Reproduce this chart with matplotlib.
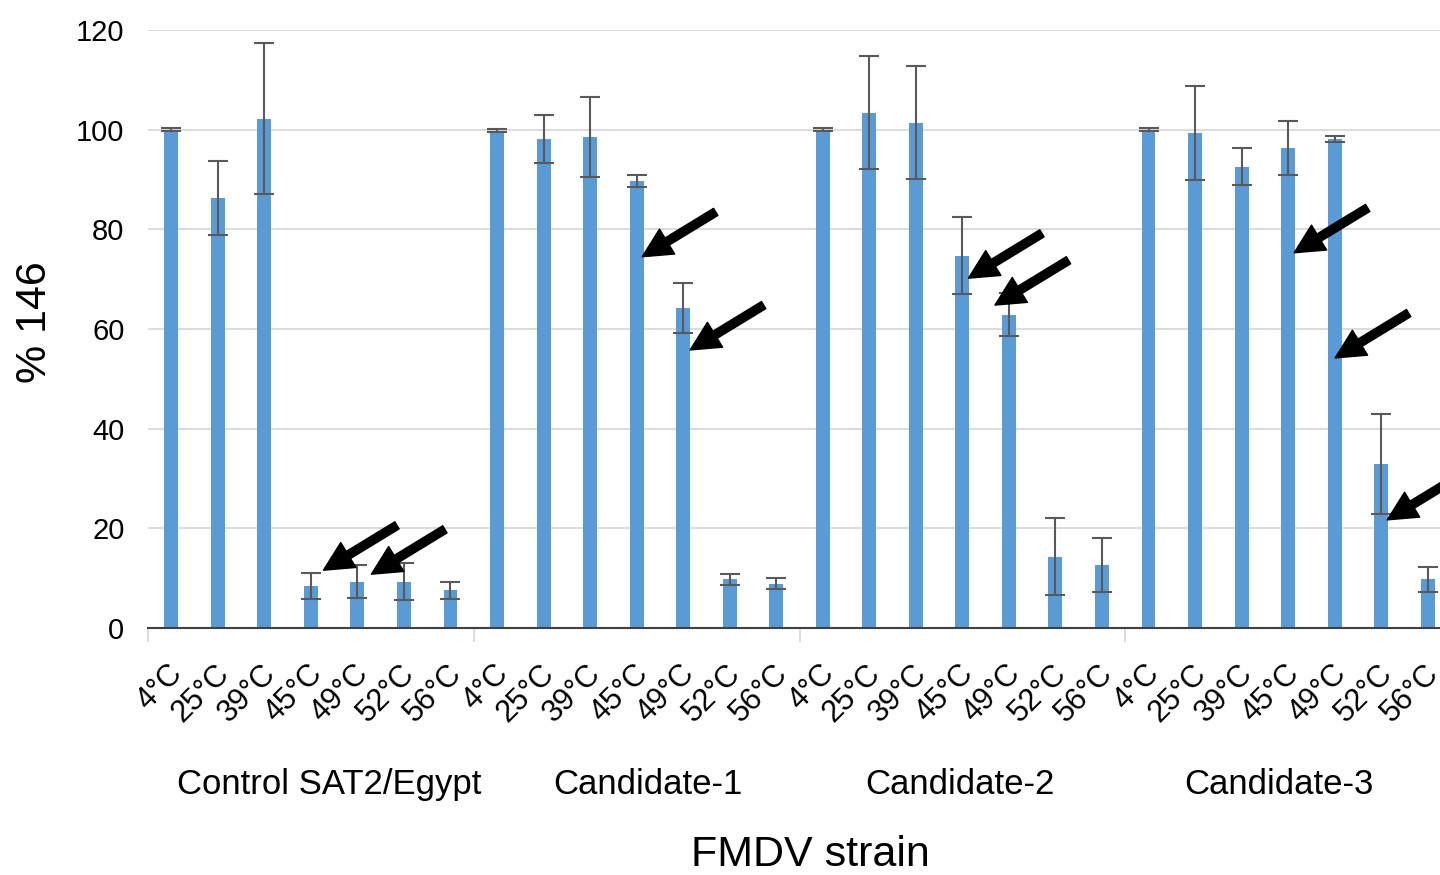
import matplotlib
matplotlib.use('Agg')
import matplotlib.pyplot as plt
import matplotlib.transforms as mtransforms
import numpy as np

plt.rcParams['font.family'] = ['Liberation Sans', 'DejaVu Sans']

temps = ['4°C', '25°C', '39°C', '45°C', '49°C', '52°C', '56°C']
groups = ['Control SAT2/Egypt', 'Candidate-1', 'Candidate-2', 'Candidate-3']

control = [100, 86.3, 102.2, 8.4, 9.3, 9.3, 7.6]
cand1 = [99.8, 98.1, 98.6, 89.7, 64.2, 9.8, 8.9]
cand2 = [100, 103.4, 101.4, 74.7, 62.9, 14.3, 12.6]
cand3 = [100, 99.3, 92.6, 96.4, 98.1, 32.9, 9.8]

control_err = [0.3, 7.4, 15.2, 2.6, 3.3, 3.7, 1.7]
cand1_err = [0.3, 4.8, 8.0, 1.3, 5.0, 1.1, 1.1]
cand2_err = [0.3, 11.3, 11.3, 7.7, 4.3, 7.7, 5.4]
cand3_err = [0.3, 9.4, 3.8, 5.4, 0.6, 10.0, 2.5]

# arrow annotations: (tip x, tip y) in data coordinates
arrow_tips = [(3.27, 11.6), (4.30, 10.8), (10.12, 74.5), (11.15, 55.8),
              (17.13, 70.2), (17.70, 64.8), (24.13, 75.3), (25.01, 54.2),
              (26.13, 21.7)]

values = control + cand1 + cand2 + cand3
errors = control_err + cand1_err + cand2_err + cand3_err
labels = temps * len(groups)
x = np.arange(len(values))

fig = plt.figure(figsize=(14.4, 8.75), dpi=100)
ax = fig.add_axes([148/1440, 1 - 628/875, 1303/1440, 598/875])

ax.bar(x, values, width=0.3, color='#5b9bd5', zorder=2)
ax.errorbar(x, values, yerr=errors, fmt='none', ecolor='#595959',
            elinewidth=1.5, capsize=7, capthick=1.5, zorder=3)

ax.set_xlim(-0.5, len(values) - 0.5)
ax.set_ylim(0, 120)
ax.set_yticks(np.arange(0, 121, 20))
ax.yaxis.grid(True, color='#d9d9d9', linewidth=1.3, zorder=0)
ax.set_axisbelow(True)

for s in ['top', 'right', 'left']:
    ax.spines[s].set_visible(False)
ax.spines['bottom'].set_color('#404040')
ax.spines['bottom'].set_linewidth(1.5)

ax.set_xticks(x)
ax.set_xticklabels(labels, rotation=45, ha='right', rotation_mode='anchor',
                   fontsize=22)
ax.tick_params(axis='x', which='major', length=0, pad=22)
offset = mtransforms.ScaledTranslation(-4/100, 0, fig.dpi_scale_trans)
for lab in ax.get_xticklabels():
    lab.set_transform(lab.get_transform() + offset)
ax.set_xticks([-0.5, 6.5, 13.5, 20.5], minor=True)
ax.tick_params(axis='x', which='minor', length=10, width=1.3, color='#d9d9d9')
ax.tick_params(axis='y', length=0, pad=17, labelsize=21)

group_label_x = [3.4, 10.25, 16.95, 23.8]
for gx, g in zip(group_label_x, groups):
    ax.text(gx, -0.261, g, transform=ax.get_xaxis_transform(),
            ha='center', va='center', fontsize=25)

for tx, ty in arrow_tips:
    ax.annotate('', xy=(tx, ty), xytext=(tx + 1.58, ty + 9.0),
                arrowprops=dict(facecolor='black', edgecolor='black',
                                width=6, headwidth=21, headlength=21, shrink=0),
                annotation_clip=False, zorder=5)

fig.text(810/1440, 1 - 855/875, 'FMDV strain', ha='center', va='center', fontsize=31)
fig.text(35/1440, 1 - 322/875, '% 146', ha='center', va='center', fontsize=31,
         rotation=90)

fig.savefig('out.png', dpi=100)
